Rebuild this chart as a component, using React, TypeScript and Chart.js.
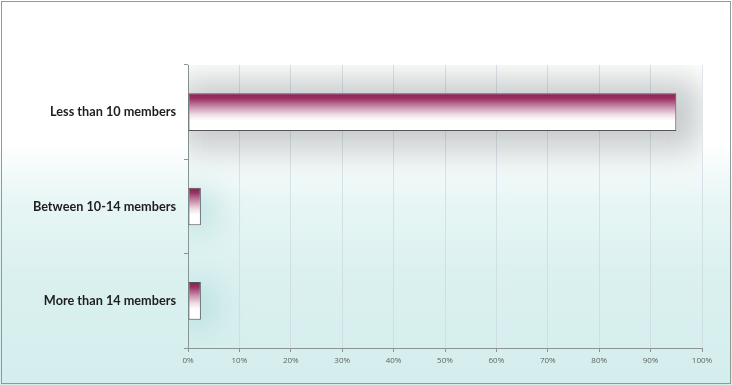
import React, { useEffect, useRef } from "react";
import { Chart, registerables } from "chart.js";

Chart.register(...registerables);

// Team size survey results (percent of respondents)
const categories = ["Less than 10 members", "Between 10-14 members", "More than 14 members"];
const shares = [95, 2.5, 2.5];
const tickValues = [0, 10, 20, 30, 40, 50, 60, 70, 80, 90, 100];

const W = 732;
const H = 385;

// Soft blurred shadow behind each bar, kept inside the plot area
const barShadow = {
  id: "barShadow",
  beforeDatasetsDraw(chart: any) {
    const ctx = chart.ctx;
    const area = chart.chartArea;
    const meta = chart.getDatasetMeta(0);
    ctx.save();
    ctx.beginPath();
    ctx.rect(area.left, area.top, area.right - area.left, area.bottom - area.top);
    ctx.clip();
    ctx.filter = "blur(16px)";
    meta.data.forEach((el: any) => {
      const left = Math.min(el.base, el.x);
      const right = Math.max(el.base, el.x);
      const top = el.y - el.height / 2;
      const h = el.height;
      const wide = right - left > 100;
      ctx.fillStyle = wide ? "rgba(105, 118, 118, 0.38)" : "rgba(110, 185, 190, 0.35)";
      if (wide) {
        ctx.fillRect(left - 10, top - 14, right - left + 34, h + 34);
      } else {
        ctx.fillRect(left - 10, top + 4, right - left + 24, h);
      }
    });
    ctx.restore();
  },
};

// Thin frame around the whole picture
const frame = {
  id: "frame",
  afterDraw(chart: any) {
    const ctx = chart.ctx;
    ctx.save();
    ctx.strokeStyle = "#8c9c9c";
    ctx.lineWidth = 1;
    ctx.strokeRect(1.5, 1.5, W - 3, H - 3);
    ctx.restore();
  },
};

export default function App() {
  const ref = useRef<HTMLCanvasElement>(null);

  useEffect(() => {
    document.body.style.margin = "0";
    const canvas = ref.current!;
    const chart = new Chart(canvas, {
      type: "bar",
      data: {
        labels: categories,
        datasets: [
          {
            data: shares,
            backgroundColor: (c: any) => {
              const ch = c.chart;
              const ys = ch.scales?.y;
              if (!ys || !ch.chartArea) return "#a03a6a";
              const center = ys.getPixelForValue(c.dataIndex);
              const half = (ch.chartArea.height / categories.length) * 0.4 / 2;
              const g = ch.ctx.createLinearGradient(0, center - half, 0, center + half);
              g.addColorStop(0, "#8a1d50");
              g.addColorStop(0.14, "#9a3264");
              g.addColorStop(0.36, "#c98fac");
              g.addColorStop(0.56, "#eedbe4");
              g.addColorStop(0.72, "#ffffff");
              g.addColorStop(1, "#ffffff");
              return g;
            },
            borderColor: "#555555",
            borderWidth: 1,
            borderSkipped: false,
            categoryPercentage: 1,
            barPercentage: 0.4,
          },
        ],
      },
      options: {
        indexAxis: "y",
        animation: false,
        responsive: false,
        events: [],
        layout: { padding: { top: 65, right: 30, left: 0, bottom: 0 } },
        plugins: {
          legend: { display: false },
          tooltip: { enabled: false },
        },
        scales: {
          x: {
            min: 0,
            max: 100,
            afterFit: (s: any) => {
              s.height = 37;
            },
            afterBuildTicks: (s: any) => {
              s.ticks = tickValues.map((v) => ({ value: v }));
            },
            ticks: {
              callback: (v: any) => v + "%",
              color: "#5a6464",
              font: { family: "Open Sans", size: 8 },
              padding: 4,
              maxRotation: 0,
            },
            grid: {
              color: "rgba(200, 212, 222, 0.6)",
              tickColor: "#8a9494",
              tickLength: 4,
              lineWidth: 1,
            },
            border: { color: "#8a9494", width: 1 },
          },
          y: {
            afterFit: (s: any) => {
              s.width = 188;
            },
            ticks: {
              color: "#1e1e1e",
              font: { family: "Lato", size: 12.7, weight: "bold" },
              padding: 8,
            },
            grid: {
              drawOnChartArea: false,
              tickColor: "#8a9494",
              tickLength: 4,
              offset: true,
            },
            border: { color: "#8a9494", width: 1 },
          },
        },
      },
      plugins: [barShadow, frame],
    } as any);
    return () => chart.destroy();
  }, []);

  return (
    <div
      style={{
        position: "absolute",
        left: 0,
        top: 0,
        width: W,
        height: H,
        background:
          "linear-gradient(to bottom, #ffffff 0%, #ffffff 37%, #e8f6f5 52%, #dbf1f0 70%, #d4eded 100%)",
      }}
    >
      <canvas ref={ref} width={W} height={H} style={{ display: "block", width: W, height: H }} />
    </div>
  );
}
